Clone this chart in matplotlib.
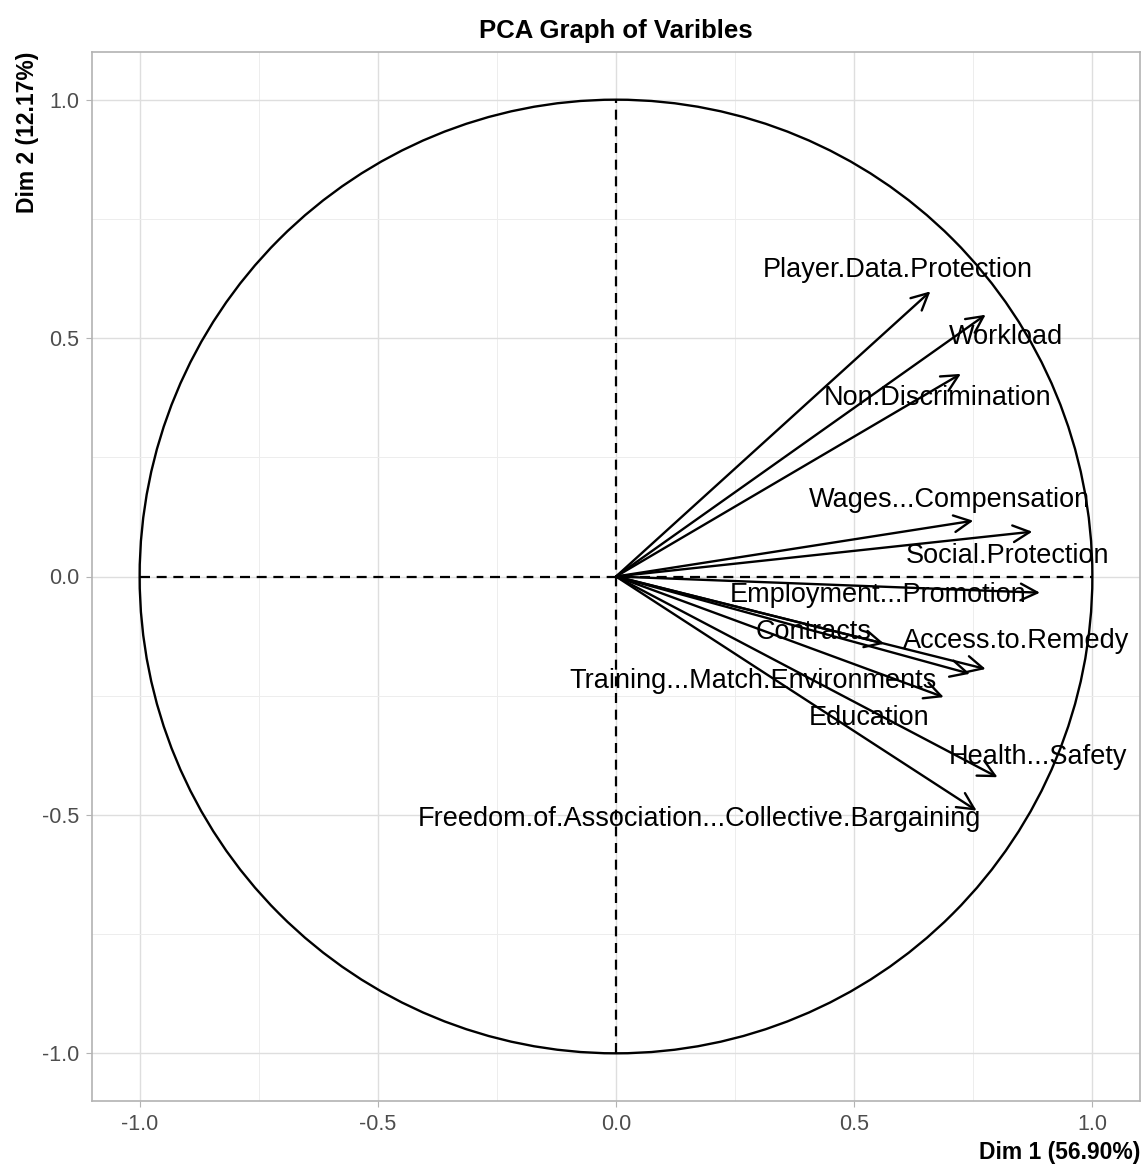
import numpy as np
import matplotlib.pyplot as plt
from matplotlib.patches import Circle

plt.rcParams['font.family'] = ['Liberation Sans', 'DejaVu Sans']

# variable coordinates on Dim 1 / Dim 2
variables = ['Player.Data.Protection', 'Workload', 'Non.Discrimination',
             'Wages...Compensation', 'Social.Protection', 'Employment...Promotion',
             'Contracts', 'Access.to.Remedy', 'Training...Match.Environments',
             'Education', 'Health...Safety',
             'Freedom.of.Association...Collective.Bargaining']
dim1 = [0.660, 0.776, 0.724, 0.750, 0.874, 0.890, 0.563, 0.776, 0.743, 0.688, 0.801, 0.757]
dim2 = [0.598, 0.549, 0.425, 0.117, 0.094, -0.034, -0.141, -0.194, -0.204, -0.253, -0.421, -0.491]

# where the (repelled) labels ended up
label_x = [0.591, 0.818, 0.676, 0.699, 0.822, 0.551, 0.415, 0.839, 0.288, 0.532, 0.885, 0.176]
label_y = [0.642, 0.503, 0.375, 0.161, 0.044, -0.038, -0.117, -0.136, -0.220, -0.296, -0.379, -0.509]

ticks = [-1.0, -0.5, 0.0, 0.5, 1.0]
minor_ticks = [-0.75, -0.25, 0.25, 0.75]

fig = plt.figure(figsize=(11.48, 11.64), dpi=100)
ax = fig.add_axes([92 / 1148, 63 / 1164, 1048 / 1148, 1049 / 1164])

ax.set_xlim(-1.1, 1.1)
ax.set_ylim(-1.1, 1.1)
ax.set_xticks(ticks)
ax.set_yticks(ticks)
ax.set_xticks(minor_ticks, minor=True)
ax.set_yticks(minor_ticks, minor=True)
ax.set_xticklabels([f'{t:.1f}' for t in ticks])
ax.set_yticklabels([f'{t:.1f}' for t in ticks])

ax.grid(which='major', color='#DEDEDE', linewidth=1.0)
ax.grid(which='minor', color='#EDEDED', linewidth=0.7)
ax.set_axisbelow(True)
for s in ax.spines.values():
    s.set_color('#B3B3B3')
    s.set_linewidth(1.2)
ax.tick_params(which='major', length=4, color='#B3B3B3', labelsize=15.5,
               labelcolor='#4D4D4D', pad=5)
ax.tick_params(which='minor', length=0)

# correlation circle and reference lines
ax.add_patch(Circle((0, 0), 1.0, fill=False, edgecolor='black', linewidth=1.7))
ax.plot([-1, 1], [0, 0], color='black', linestyle=(0, (4.5, 3)), linewidth=1.6)
ax.plot([0, 0], [-1, 1], color='black', linestyle=(0, (4.5, 3)), linewidth=1.6)

for x, y in zip(dim1, dim2):
    ax.annotate('', xy=(x, y), xytext=(0, 0),
                arrowprops=dict(arrowstyle='->,head_length=0.6,head_width=0.3',
                                color='black', lw=1.7, shrinkA=0, shrinkB=0,
                                mutation_scale=20))

for name, lx, ly in zip(variables, label_x, label_y):
    ax.text(lx, ly, name, ha='center', va='center', fontsize=19.5, color='black')

ax.set_title('PCA Graph of Varibles', fontsize=18.5, fontweight='bold', pad=10)
ax.set_xlabel('Dim 1 (56.90%)', fontsize=16.5, fontweight='bold', loc='right')
ax.set_ylabel('Dim 2 (12.17%)', fontsize=16.5, fontweight='bold', loc='top')
ax.xaxis.set_label_coords(1.0, -0.038)
ax.yaxis.set_label_coords(-0.051, 1.0)

fig.savefig('out.png', dpi=100)
